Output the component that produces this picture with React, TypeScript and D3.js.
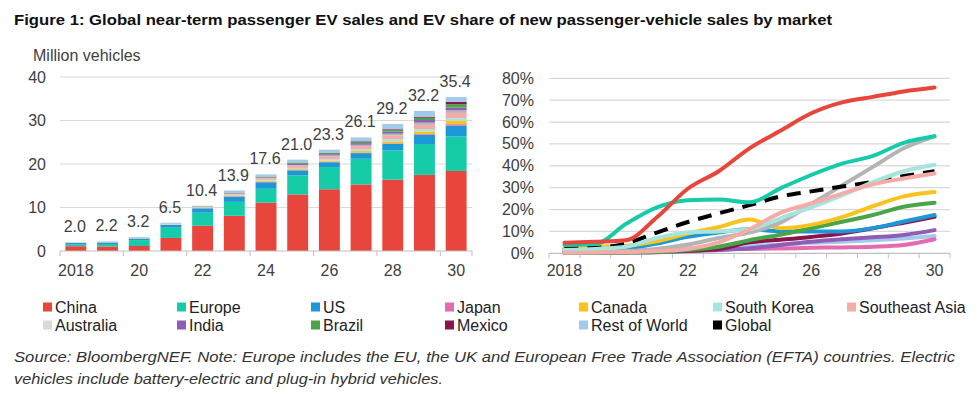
import React from "react";
import * as d3 from "d3";

const years = [2018, 2019, 2020, 2021, 2022, 2023, 2024, 2025, 2026, 2027, 2028, 2029, 2030];
const axisYears = [2018, 2020, 2022, 2024, 2026, 2028, 2030];
const axisYearLabels = ["2018", "20", "22", "24", "26", "28", "30"];
const salesTicks = [0, 10, 20, 30, 40];
const shareTicks = [0, 10, 20, 30, 40, 50, 60, 70, 80];

const markets = [
  "China", "Europe", "US", "Japan", "Canada", "South Korea", "Southeast Asia",
  "Australia", "India", "Brazil", "Mexico", "Rest of World",
];
const legendItems = [
  "China", "Europe", "US", "Japan", "Canada", "South Korea", "Southeast Asia",
  "Australia", "India", "Brazil", "Mexico", "Rest of World", "Global",
];
const colors = {
  China: "#e8453c",
  Europe: "#16cca8",
  US: "#1b98d8",
  Japan: "#e36bb0",
  Canada: "#f8c31c",
  "South Korea": "#a8e4de",
  "Southeast Asia": "#f5aca7",
  Australia: "#b4b4b4",
  India: "#8f5db7",
  Brazil: "#4aa548",
  Mexico: "#8a1549",
  "Rest of World": "#a3cae9",
  Global: "#000000",
};

// million vehicles
const totals = [2.0, 2.2, 3.2, 6.5, 10.4, 13.9, 17.6, 21.0, 23.3, 26.1, 29.2, 32.2, 35.4];
const salesChina = [1.1, 1.05, 1.15, 3.0, 5.8, 8.1, 11.1, 13.0, 14.2, 15.3, 16.4, 17.5, 18.4];
const salesEurope = [0.38, 0.55, 1.35, 2.35, 3.0, 3.2, 3.2, 4.4, 5.1, 5.9, 6.7, 7.1, 7.9];
const salesUS = [0.35, 0.33, 0.3, 0.65, 1.0, 1.2, 1.5, 1.1, 1.1, 1.3, 1.5, 2.1, 2.5];
const salesJapan = [0.05, 0.04, 0.03, 0.05, 0.06, 0.1, 0.1, 0.12, 0.13, 0.14, 0.15, 0.18, 0.35];
const salesCanada = [0.04, 0.05, 0.05, 0.08, 0.13, 0.18, 0.25, 0.2, 0.25, 0.33, 0.45, 0.6, 0.8];
const salesKorea = [0.03, 0.04, 0.05, 0.1, 0.15, 0.16, 0.2, 0.28, 0.33, 0.4, 0.5, 0.55, 0.6];
const salesSEAsia = [0, 0.01, 0.02, 0.03, 0.05, 0.15, 0.3, 0.5, 0.6, 0.72, 0.85, 0.98, 1.2];
const salesAustralia = [0, 0.01, 0.01, 0.02, 0.04, 0.1, 0.12, 0.18, 0.25, 0.33, 0.42, 0.5, 0.6];
const salesIndia = [0, 0.01, 0.02, 0.03, 0.05, 0.12, 0.15, 0.25, 0.3, 0.38, 0.48, 0.6, 0.6];
const salesBrazil = [0, 0.01, 0.02, 0.01, 0.02, 0.08, 0.12, 0.2, 0.25, 0.32, 0.4, 0.48, 0.8];
const salesMexico = [0, 0.01, 0.01, 0.01, 0.01, 0.03, 0.06, 0.08, 0.1, 0.12, 0.15, 0.19, 0.5];
const salesRoW = [0.05, 0.09, 0.19, 0.17, 0.09, 0.48, 0.5, 0.69, 0.69, 0.86, 1.2, 1.42, 1.15];

// EV share of new passenger-vehicle sales, %
const shareChina = [4.8, 5.3, 6.0, 16.5, 29.5, 37.5, 48, 56, 64, 69, 71.5, 74, 75.8];
const shareEurope = [3.8, 4.2, 13.5, 21, 24.3, 24.6, 23.3, 29.7, 35.8, 41, 44.5, 50.5, 53.5];
const shareUS = [2.2, 2.1, 2.3, 4.5, 7.5, 9.5, 11, 10, 10, 10, 11.5, 14.5, 17.5];
const shareJapan = [1, 1, 0.9, 1, 1.7, 2, 2, 2.2, 2.5, 2.7, 3, 3.8, 6.4];
const shareCanada = [2.2, 3, 3.5, 5.5, 9, 12, 15.5, 11.5, 13, 16.5, 21.5, 26, 28];
const shareKorea = [1.5, 2, 3, 7, 9.5, 10, 11, 16, 21, 26.5, 32.5, 37.5, 40.5];
const shareSEAsia = [0.3, 0.4, 0.5, 1, 2, 5, 11, 18.5, 22.8, 27.3, 31.5, 34.2, 36.5];
const shareAustralia = [0.5, 0.7, 1, 2, 4, 7, 9.5, 14, 22.5, 31, 39.5, 48, 53.5];
const shareIndia = [0.2, 0.2, 0.3, 0.5, 1, 1.5, 2.3, 3.8, 5.3, 6.4, 7.3, 8.4, 10.6];
const shareBrazil = [0.1, 0.2, 0.3, 0.6, 1.5, 3, 6, 8.5, 11.4, 14.4, 17.5, 21.3, 23.1];
const shareMexico = [0.5, 0.6, 0.7, 0.9, 1.2, 2, 5, 6.2, 7.5, 9.1, 11.4, 14, 16.7];
const shareRoW = [0.8, 1, 1.3, 1.8, 2.3, 2.7, 3.3, 4, 4.8, 5.3, 6, 6.8, 7.9];
const shareGlobal = [2.2, 2.5, 4.5, 9.5, 14.3, 18.3, 22, 26, 28.3, 30.5, 32.7, 35.3, 37.5];

const salesBy = {
  China: salesChina, Europe: salesEurope, US: salesUS, Japan: salesJapan,
  Canada: salesCanada, "South Korea": salesKorea, "Southeast Asia": salesSEAsia,
  Australia: salesAustralia, India: salesIndia, Brazil: salesBrazil,
  Mexico: salesMexico, "Rest of World": salesRoW,
};
const shareBy = {
  China: shareChina, Europe: shareEurope, US: shareUS, Japan: shareJapan,
  Canada: shareCanada, "South Korea": shareKorea, "Southeast Asia": shareSEAsia,
  Australia: shareAustralia, India: shareIndia, Brazil: shareBrazil,
  Mexico: shareMexico, "Rest of World": shareRoW, Global: shareGlobal,
};
// drawing order, back to front
const lineOrder = [
  "Rest of World", "Japan", "India", "Mexico", "US", "Brazil", "Canada",
  "Australia", "Global", "South Korea", "Southeast Asia", "Europe", "China",
];

const font = "'Liberation Sans', Arial, sans-serif";
const textCol = "#404040";

export default function App() {
  // left panel: sales
  const x1 = d3.scaleBand().domain(years).range([60, 472]).paddingInner(0.34).paddingOuter(0.17);
  const y1 = d3.scaleLinear().domain([0, 40]).range([251, 77]);
  const band1 = d3.scaleBand().domain(years).range([60, 472]);
  const rows = years.map((yr, i) => {
    const r: any = { year: yr };
    markets.forEach((m) => (r[m] = salesBy[m][i]));
    return r;
  });
  const stacked = d3.stack().keys(markets)(rows);

  // right panel: share
  const x2 = d3.scaleBand().domain(years).range([549, 950]);
  const y2 = d3.scaleLinear().domain([0, 80]).range([253.3, 78.3]);
  const cx2 = (yr) => x2(yr) + x2.bandwidth() / 2;
  const line = d3
    .line<number>()
    .x((d, i) => cx2(years[i]))
    .y((d) => y2(d))
    .curve(d3.curveMonotoneX);

  const legendX = (i) => 43 + (i % 7) * 134;
  const legendY = (i) => (i < 7 ? 307 : 325);

  return (
    <svg width={980} height={397} style={{ position: "absolute", left: 0, top: 0 }} fontFamily={font}>
      <rect width={980} height={397} fill="#fff" />
      <text x={14} y={25} fontSize={15} fontWeight="bold" fill="#111" textLength={818} lengthAdjust="spacingAndGlyphs">
        Figure 1: Global near-term passenger EV sales and EV share of new passenger-vehicle sales by market
      </text>

      {/* left chart */}
      <text x={33} y={61} fontSize={16} fill={textCol}>Million vehicles</text>
      {salesTicks.map((t) => (
        <g key={t}>
          {t > 0 && <line x1={60} x2={472} y1={y1(t)} y2={y1(t)} stroke="#d9d9d9" strokeWidth={1.2} />}
          <text x={46} y={y1(t) + 5.5} fontSize={16} textAnchor="end" fill={textCol}>{t}</text>
        </g>
      ))}
      {stacked.map((s) => (
        <g key={s.key} fill={colors[s.key]}>
          {s.map((d, i) => (
            <rect key={i} x={x1(years[i])} width={x1.bandwidth()} y={y1(d[1])} height={Math.max(0, y1(d[0]) - y1(d[1]))} />
          ))}
        </g>
      ))}
      <line x1={60} x2={472} y1={y1(0)} y2={y1(0)} stroke="#bfbfbf" strokeWidth={1.2} />
      {axisYears.map((yr) => (
        <line key={yr} x1={band1(yr)} x2={band1(yr)} y1={y1(0)} y2={y1(0) + 5} stroke="#bfbfbf" />
      ))}
      <line x1={472} x2={472} y1={y1(0)} y2={y1(0) + 5} stroke="#bfbfbf" />
      {axisYears.map((yr, i) => (
        <text key={yr} x={band1(yr) + band1.bandwidth() / 2} y={276} fontSize={16} textAnchor="middle" fill={textCol}>
          {axisYearLabels[i]}
        </text>
      ))}
      {totals.map((t, i) => (
        <text key={i} x={band1(years[i]) + band1.bandwidth() / 2 - 1} y={y1(t) - 10} fontSize={16} textAnchor="middle" fill={textCol}>
          {t.toFixed(1)}
        </text>
      ))}

      {/* right chart */}
      {shareTicks.map((t) => (
        <g key={t}>
          {t > 0 && <line x1={549} x2={950} y1={y2(t)} y2={y2(t)} stroke="#d9d9d9" strokeWidth={1.2} />}
          <text x={534} y={y2(t) + 5.5} fontSize={16} textAnchor="end" fill={textCol}>{t}%</text>
        </g>
      ))}
      <line x1={549} x2={950} y1={y2(0)} y2={y2(0)} stroke="#bfbfbf" strokeWidth={1.2} />
      {years.map((yr) => (
        <line key={yr} x1={x2(yr)} x2={x2(yr)} y1={y2(0)} y2={y2(0) + 5} stroke="#bfbfbf" />
      ))}
      <line x1={950} x2={950} y1={y2(0)} y2={y2(0) + 5} stroke="#bfbfbf" />
      {axisYears.map((yr, i) => (
        <text key={yr} x={cx2(yr)} y={276} fontSize={16} textAnchor="middle" fill={textCol}>
          {axisYearLabels[i]}
        </text>
      ))}
      {lineOrder.map((m) => (
        <path
          key={m}
          d={line(shareBy[m])}
          fill="none"
          stroke={colors[m]}
          strokeWidth={4}
          strokeLinecap={m === "Global" ? "butt" : "round"}
          strokeLinejoin="round"
          strokeDasharray={m === "Global" ? "14 9" : undefined}
        />
      ))}

      {/* legend */}
      {legendItems.map((m, i) => (
        <g key={m}>
          <rect x={legendX(i)} y={legendY(i) - 4.5} width={9} height={9} fill={m === "Australia" ? "#d9d9d9" : colors[m]} />
          <text x={legendX(i) + 12} y={legendY(i) + 5.5} fontSize={16} fill="#222">{m}</text>
        </g>
      ))}

      <text x={14} y={362} fontSize={15} fontStyle="italic" fill="#333" textLength={941} lengthAdjust="spacingAndGlyphs">
        Source: BloombergNEF. Note: Europe includes the EU, the UK and European Free Trade Association (EFTA) countries. Electric
      </text>
      <text x={14} y={384} fontSize={15} fontStyle="italic" fill="#333" textLength={429} lengthAdjust="spacingAndGlyphs">
        vehicles include battery-electric and plug-in hybrid vehicles.
      </text>
    </svg>
  );
}
